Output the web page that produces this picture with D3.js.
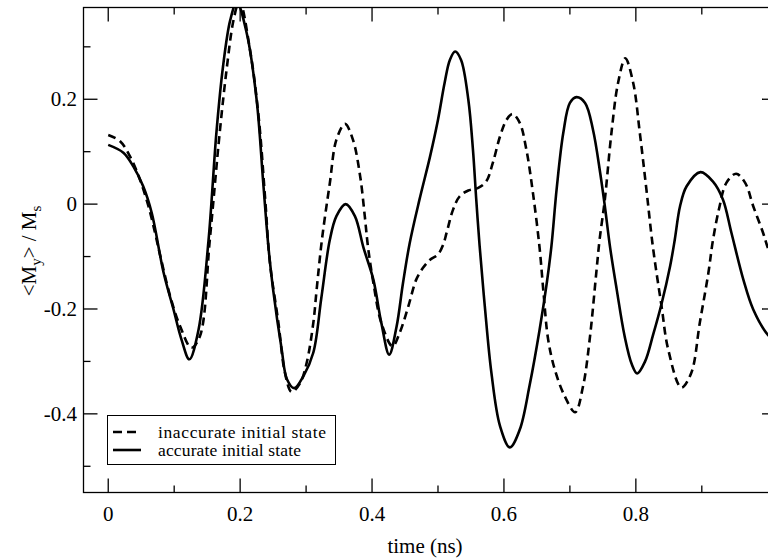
<!DOCTYPE html>
<html>
<head>
<meta charset="utf-8">
<script src="https://cdn.jsdelivr.net/npm/d3@7"></script>
<style>
  html, body { margin: 0; padding: 0; background: #fff; }
  svg { display: block; font-family: 'Liberation Serif', 'Times New Roman', Times, serif; }
</style>
</head>
<body>
<svg id="chart" width="768" height="560"></svg>
<script>
// ---- data ----
const accT = [0,0.023,0.038,0.053,0.066,0.084,0.099,0.111,0.123,0.137,0.152,0.164,0.174,0.185,0.195,0.210,0.225,0.235,0.243,0.250,0.263,0.271,0.282,0.296,0.311,0.323,0.336,0.346,0.360,0.374,0.387,0.402,0.414,0.426,0.437,0.447,0.457,0.472,0.488,0.500,0.510,0.518,0.526,0.535,0.546,0.553,0.558,0.563,0.571,0.581,0.594,0.609,0.624,0.639,0.654,0.665,0.672,0.680,0.690,0.700,0.710,0.723,0.735,0.746,0.753,0.761,0.771,0.783,0.794,0.802,0.814,0.826,0.839,0.852,0.859,0.867,0.877,0.898,0.917,0.932,0.945,0.963,0.978,1.0,1.0125];
const accM = [0.113,0.098,0.072,0.034,-0.017,-0.131,-0.201,-0.258,-0.296,-0.239,-0.070,0.136,0.262,0.351,0.385,0.326,0.199,0.041,-0.083,-0.163,-0.277,-0.334,-0.351,-0.328,-0.283,-0.180,-0.068,-0.023,0.000,-0.023,-0.083,-0.144,-0.226,-0.287,-0.235,-0.150,-0.075,0.009,0.091,0.161,0.231,0.275,0.291,0.275,0.199,0.104,0.009,-0.078,-0.195,-0.322,-0.423,-0.464,-0.430,-0.345,-0.240,-0.150,-0.080,0.030,0.136,0.193,0.204,0.193,0.142,0.059,-0.004,-0.083,-0.163,-0.252,-0.306,-0.323,-0.300,-0.250,-0.190,-0.118,-0.068,-0.004,0.034,0.061,0.043,0.009,-0.055,-0.144,-0.201,-0.249,-0.262];

const inaccT = [0,0.018,0.033,0.048,0.061,0.071,0.079,0.094,0.109,0.126,0.139,0.154,0.169,0.180,0.190,0.199,0.215,0.228,0.238,0.245,0.258,0.268,0.278,0.291,0.301,0.311,0.316,0.324,0.336,0.346,0.359,0.371,0.382,0.389,0.394,0.402,0.414,0.431,0.442,0.455,0.467,0.477,0.488,0.500,0.508,0.513,0.523,0.533,0.546,0.561,0.573,0.583,0.594,0.604,0.613,0.624,0.634,0.644,0.654,0.660,0.667,0.677,0.692,0.708,0.720,0.730,0.740,0.745,0.753,0.763,0.773,0.784,0.796,0.806,0.816,0.826,0.839,0.849,0.869,0.884,0.897,0.910,0.917,0.927,0.937,0.952,0.966,0.978,0.993,1.0,1.0125];
const inaccM = [0.132,0.120,0.091,0.047,-0.004,-0.055,-0.099,-0.176,-0.233,-0.274,-0.252,-0.068,0.136,0.262,0.351,0.388,0.294,0.167,0.009,-0.110,-0.226,-0.322,-0.358,-0.341,-0.302,-0.226,-0.163,-0.068,0.040,0.123,0.153,0.123,0.053,-0.023,-0.083,-0.150,-0.226,-0.271,-0.245,-0.195,-0.144,-0.122,-0.106,-0.096,-0.077,-0.055,-0.010,0.015,0.026,0.031,0.043,0.078,0.129,0.161,0.172,0.155,0.104,0.021,-0.083,-0.169,-0.258,-0.315,-0.366,-0.397,-0.347,-0.258,-0.131,-0.068,0.009,0.136,0.231,0.278,0.231,0.136,0.028,-0.083,-0.195,-0.277,-0.350,-0.322,-0.226,-0.131,-0.068,-0.004,0.040,0.058,0.040,-0.004,-0.055,-0.083,-0.12];

const xMajorTicks = [0, 0.2, 0.4, 0.6, 0.8];
const xMinorTicks = [0.1, 0.3, 0.5, 0.7, 0.9];
const yMajorTicks = [-0.4, -0.2, 0, 0.2];
const yMinorTicks = [-0.5, -0.3, -0.1, 0.1, 0.3];
const xTickLabels = ["0", "0.2", "0.4", "0.6", "0.8"];
const yTickLabels = ["-0.4", "-0.2", "0", "0.2"];
const seriesNames = ["inaccurate initial state", "accurate initial state"];

// ---- layout ----
const FONT = "'Liberation Serif', 'Times New Roman', Times, serif";
const L = 83.5, R = 776, T = 7.5, B = 492.5;
const x = d3.scaleLinear().domain([-0.0375, 1.0125]).range([L, R]);
const y = d3.scaleLinear().domain([-0.55, 0.375]).range([B, T]);

const svg = d3.select("#chart");

svg.append("defs").append("clipPath").attr("id", "clip")
  .append("rect").attr("x", L).attr("y", T).attr("width", R - L).attr("height", B - T);

// frame
svg.append("rect").attr("x", L).attr("y", T).attr("width", R - L).attr("height", B - T)
  .attr("fill", "none").attr("stroke", "#000").attr("stroke-width", 1.3);

// ticks
const tk = svg.append("g").attr("stroke", "#000").attr("stroke-width", 1.3);
const MAJ = 14, MIN = 7;
xMajorTicks.forEach(v => {
  tk.append("line").attr("x1", x(v)).attr("x2", x(v)).attr("y1", B).attr("y2", B - MAJ);
  tk.append("line").attr("x1", x(v)).attr("x2", x(v)).attr("y1", T).attr("y2", T + MAJ);
});
xMinorTicks.forEach(v => {
  tk.append("line").attr("x1", x(v)).attr("x2", x(v)).attr("y1", B).attr("y2", B - MIN);
  tk.append("line").attr("x1", x(v)).attr("x2", x(v)).attr("y1", T).attr("y2", T + MIN);
});
yMajorTicks.forEach(v => {
  tk.append("line").attr("x1", L).attr("x2", L + MAJ).attr("y1", y(v)).attr("y2", y(v));
  tk.append("line").attr("x1", R).attr("x2", R - MAJ).attr("y1", y(v)).attr("y2", y(v));
});
yMinorTicks.forEach(v => {
  tk.append("line").attr("x1", L).attr("x2", L + MIN).attr("y1", y(v)).attr("y2", y(v));
  tk.append("line").attr("x1", R).attr("x2", R - MIN).attr("y1", y(v)).attr("y2", y(v));
});

// tick labels
xMajorTicks.forEach((v, i) => {
  svg.append("text").attr("x", x(v)).attr("y", 521).attr("text-anchor", "middle")
    .attr("font-family", FONT).attr("font-size", 21).text(xTickLabels[i]);
});
yMajorTicks.forEach((v, i) => {
  svg.append("text").attr("x", 77).attr("y", y(v) + 7).attr("text-anchor", "end")
    .attr("font-family", FONT).attr("font-size", 21).text(yTickLabels[i]);
});

// axis titles
svg.append("text").attr("x", 425).attr("y", 553).attr("text-anchor", "middle")
  .attr("font-family", FONT).attr("font-size", 21).text("time (ns)");

const yl = svg.append("text").attr("transform", "translate(36,251) rotate(-90)")
  .attr("text-anchor", "middle").attr("font-family", FONT).attr("font-size", 21);
yl.append("tspan").text("<M");
yl.append("tspan").attr("font-size", 15).attr("dy", 5).text("y");
yl.append("tspan").attr("dy", -5).text("> / M");
yl.append("tspan").attr("font-size", 15).attr("dy", 5).text("s");

// curves
const line = d3.line().x(d => x(d[0])).y(d => y(d[1])).curve(d3.curveCatmullRom.alpha(0.5));
const g = svg.append("g").attr("clip-path", "url(#clip)");
g.append("path").datum(inaccT.map((t, i) => [t, inaccM[i]]))
  .attr("d", line).attr("fill", "none").attr("stroke", "#000")
  .attr("stroke-width", 2.6).attr("stroke-dasharray", "8,5");
g.append("path").datum(accT.map((t, i) => [t, accM[i]]))
  .attr("d", line).attr("fill", "none").attr("stroke", "#000")
  .attr("stroke-width", 2.6);

// legend
const lg = svg.append("g");
lg.append("rect").attr("x", 107.5).attr("y", 415.5).attr("width", 228).attr("height", 49)
  .attr("fill", "#fff").attr("stroke", "#000").attr("stroke-width", 1);
lg.append("line").attr("x1", 113).attr("x2", 141).attr("y1", 432).attr("y2", 432)
  .attr("stroke", "#000").attr("stroke-width", 2.6).attr("stroke-dasharray", "9,5");
lg.append("line").attr("x1", 113).attr("x2", 141).attr("y1", 450).attr("y2", 450)
  .attr("stroke", "#000").attr("stroke-width", 2.6);
lg.append("text").attr("x", 158).attr("y", 437.5).attr("font-family", FONT).attr("font-size", 17.5)
  .attr("textLength", 168).attr("lengthAdjust", "spacing").text(seriesNames[0]);
lg.append("text").attr("x", 158).attr("y", 456).attr("font-family", FONT).attr("font-size", 17.5)
  .attr("textLength", 143).attr("lengthAdjust", "spacing").text(seriesNames[1]);
</script>
</body>
</html>
